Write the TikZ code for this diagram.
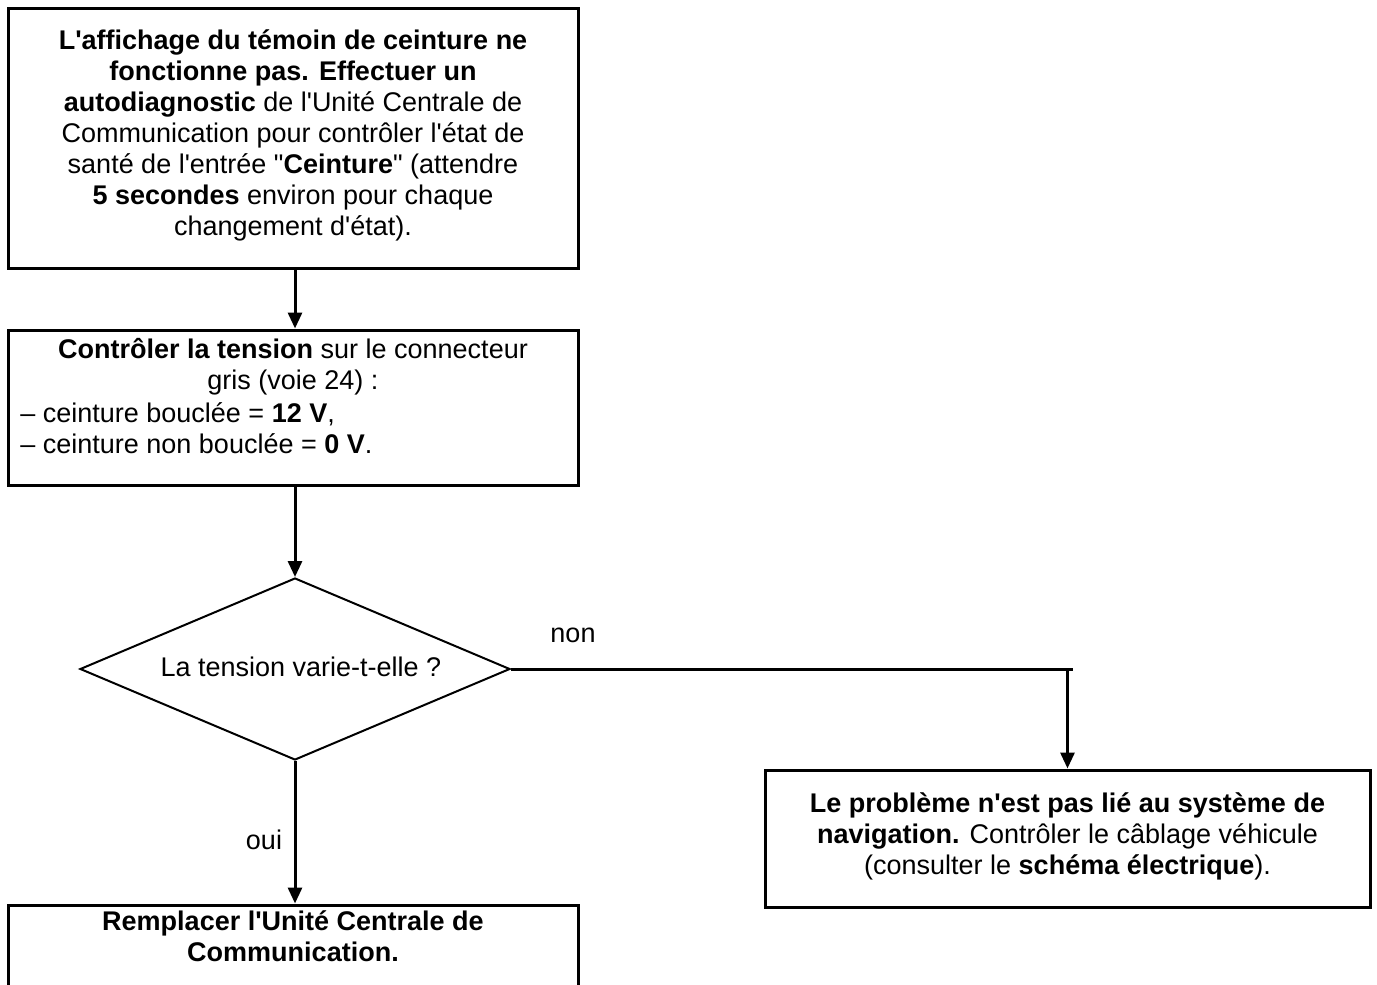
\documentclass[tikz,border=0pt]{standalone}
\usepackage{fontspec}
\setmainfont{Liberation Sans}
\usetikzlibrary{arrows.meta,shapes.geometric}
\newcommand\sq{\textquotesingle}
\newcommand\dq{\textquotedbl}
\begin{document}
\begin{tikzpicture}[x=0.5pt,y=-0.5pt,
  font=\fontsize{13.5}{15.5}\selectfont,
  box/.style={draw,line width=1.5pt,inner sep=0pt},
  txt/.style={inner sep=0pt,align=center},
  arr/.style={line width=1.5pt,-{Triangle[width=7pt,length=8pt]}},
  lbl/.style={inner sep=0pt}]
\useasboundingbox (0,0) rectangle (1377,985);
% top box
\node[box,minimum width=285pt,minimum height=130pt] (b1) at (293,138) {};
\node[txt] (b1t) at (293,135) {\textbf{L\sq affichage du témoin de ceinture ne}\\
\textbf{fonctionne pas. Effectuer un}\\
\textbf{autodiagnostic} de l\sq Unité Centrale de\\
Communication pour contrôler l\sq état de\\
santé de l\sq entrée \dq\textbf{Ceinture}\dq{} (attendre\\
\textbf{5 secondes} environ pour chaque\\
changement d\sq état).};
% second box
\node[box,minimum width=285pt,minimum height=77.5pt] (b2) at (293,407.5) {};
\node[txt] (b2t) at (293,366.5) {\textbf{Contrôler la tension} sur le connecteur\\gris (voie 24) :};
\node[txt,align=left,anchor=west] (b2u) at (20,428.5) {– ceinture bouclée = \textbf{12 V},\\– ceinture non bouclée = \textbf{0 V}.};
% decision
\node[draw,diamond,line width=1pt,inner sep=0pt,aspect=2.36,minimum width=215pt,minimum height=91pt] (d) at (295,669) {};
\node[lbl] (dt) at (301,667) {La tension varie-t-elle ?};
% right box
\node[box,minimum width=302.5pt,minimum height=68.5pt] (b4) at (1067.5,838.5) {};
\node[txt] (b4t) at (1067.5,836) {\textbf{Le problème n\sq est pas lié au système de}\\
\textbf{navigation.} Contrôler le câblage véhicule\\
(consulter le \textbf{schéma électrique}).};
% bottom box (cut by the page edge)
\node[box,minimum width=285pt,minimum height=60pt] (b3) at (293,965) {};
\node[txt] (b3t) at (293,936.5) {\textbf{Remplacer l\sq Unité Centrale de}\\\textbf{Communication.}};
% labels
\node[lbl] (non) at (573,635) {non};
\node[lbl] (oui) at (264,840) {oui};
% connectors
\coordinate (c) at (b4.north |- d.east);
\draw[arr] (b1.south -| d.north) -- (b2.north -| d.north);
\draw[arr] (b2.south -| d.north) -- (d.north);
\draw[line width=1.5pt] (d.east) -- ([xshift=2.5pt]c);
\draw[arr] (c) -- (b4.north);
\draw[arr] (d.south) -- (b3.north -| d.south);
\end{tikzpicture}
\end{document}
